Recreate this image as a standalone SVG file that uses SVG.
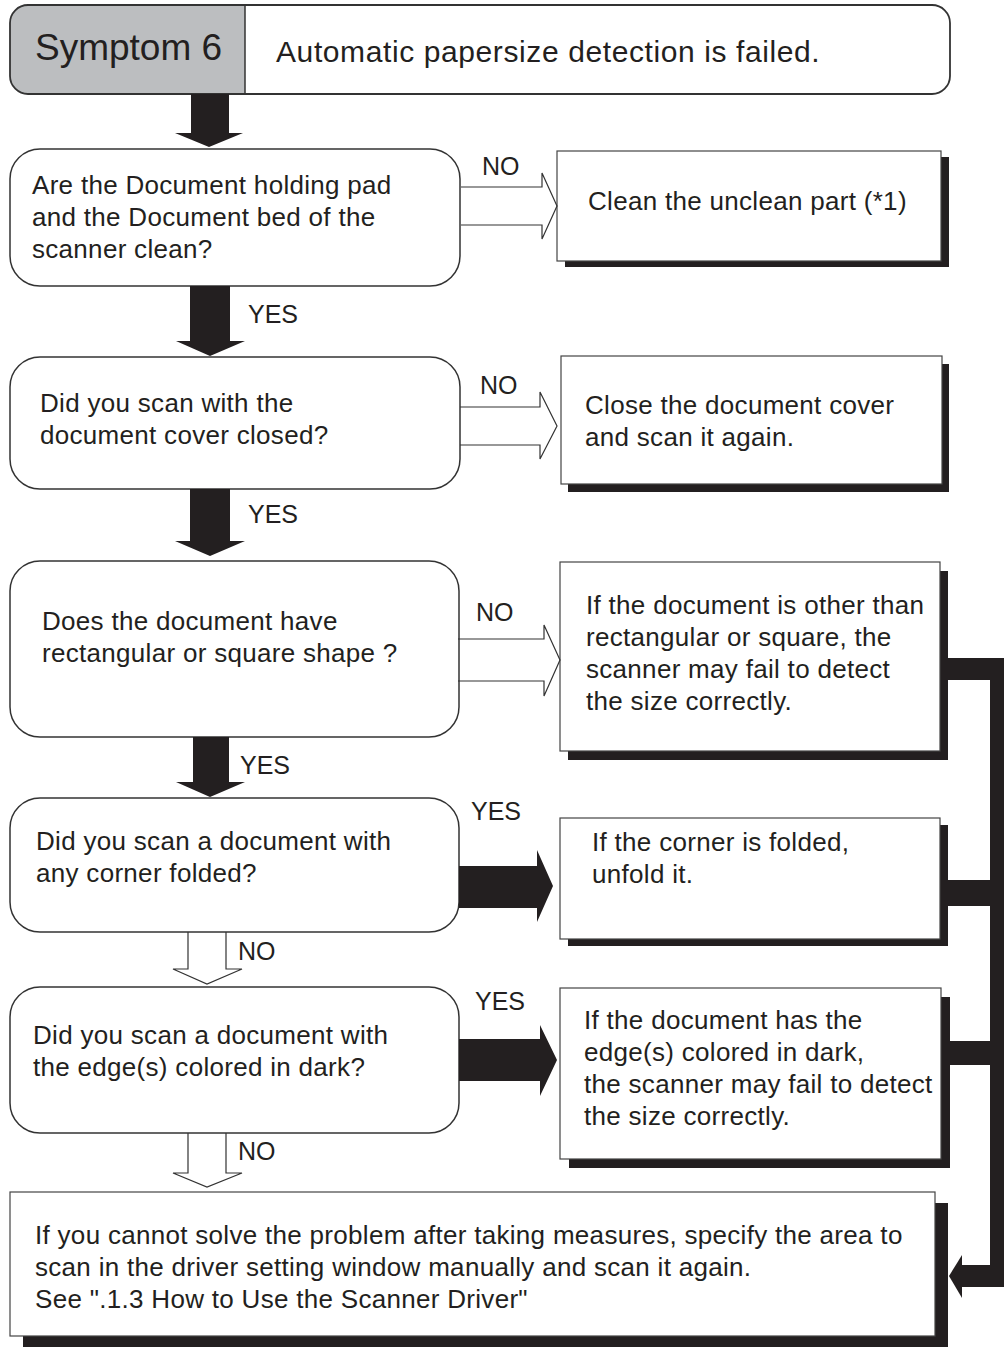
<svg xmlns="http://www.w3.org/2000/svg" width="1004" height="1347" viewBox="0 0 1004 1347">
<style>
.t{font-family:"Liberation Sans",Arial,sans-serif;font-size:26px;letter-spacing:0.3px;fill:#231f20}
.lb{font-family:"Liberation Sans",Arial,sans-serif;font-size:25px;fill:#231f20}
.q{fill:#fff;stroke:#333;stroke-width:1.5}
.box{fill:#fff;stroke:#444;stroke-width:1.2}
.sh{fill:#231f20}
.blk{fill:#231f20}
.open{fill:none;stroke:#333;stroke-width:1.2}
</style>
<rect width="1004" height="1347" fill="#fff"/>

<g id="header">
<path d="M245,5 H28 A18,18 0 0 0 10,23 V76 A18,18 0 0 0 28,94 H245 Z" fill="#bcbec0"/>
<rect x="10" y="5" width="940" height="89" rx="18" fill="none" stroke="#333" stroke-width="1.8"/>
<line x1="245" y1="5" x2="245" y2="94" stroke="#333" stroke-width="1.5"/>
<text x="35" y="60" style="font-family:'Liberation Sans',Arial,sans-serif;font-size:37px;fill:#231f20">Symptom 6</text>
<text x="276" y="62" style="font-family:'Liberation Sans',Arial,sans-serif;font-size:30px;letter-spacing:0.6px;fill:#231f20">Automatic papersize detection is failed.</text>
</g>

<g id="q1">
<rect class="q" x="10" y="149" width="450" height="137" rx="30"/>
<text class="t" x="32" y="194">Are the Document holding pad</text>
<text class="t" x="32" y="226">and the Document bed of the</text>
<text class="t" x="32" y="258">scanner clean?</text>
</g>
<g id="q2">
<rect class="q" x="10" y="357" width="450" height="132" rx="30"/>
<text class="t" x="40" y="412">Did you scan with the</text>
<text class="t" x="40" y="444">document cover closed?</text>
</g>
<g id="q3">
<rect class="q" x="10" y="561" width="449" height="176" rx="30"/>
<text class="t" x="42" y="630">Does the document have</text>
<text class="t" x="42" y="662">rectangular or square shape ?</text>
</g>
<g id="q4">
<rect class="q" x="10" y="798" width="449" height="134" rx="30"/>
<text class="t" x="36" y="850">Did you scan a document with</text>
<text class="t" x="36" y="882">any corner folded?</text>
</g>
<g id="q5">
<rect class="q" x="10" y="987" width="449" height="146" rx="30"/>
<text class="t" x="33" y="1044">Did you scan a document with</text>
<text class="t" x="33" y="1076">the edge(s) colored in dark?</text>
</g>

<g id="r1">
<rect class="sh" x="565" y="157" width="384" height="110"/>
<rect class="box" x="557" y="151" width="384" height="110"/>
<text class="t" x="588" y="210">Clean the unclean part (*1)</text>
</g>
<g id="r2">
<rect class="sh" x="568" y="364" width="381" height="128"/>
<rect class="box" x="561" y="356" width="381" height="128"/>
<text class="t" x="585" y="414">Close the document cover</text>
<text class="t" x="585" y="446">and scan it again.</text>
</g>
<g id="r3">
<rect class="sh" x="568" y="571" width="380" height="189"/>
<rect class="box" x="560" y="562" width="380" height="189"/>
<text class="t" x="586" y="614">If the document is other than</text>
<text class="t" x="586" y="646">rectangular or square, the</text>
<text class="t" x="586" y="678">scanner may fail to detect</text>
<text class="t" x="586" y="710">the size correctly.</text>
</g>
<g id="r4">
<rect class="sh" x="568" y="825" width="380" height="121"/>
<rect class="box" x="560" y="818" width="380" height="121"/>
<text class="t" x="592" y="851">If the corner is folded,</text>
<text class="t" x="592" y="883">unfold it.</text>
</g>
<g id="r5">
<rect class="sh" x="569" y="997" width="381" height="171"/>
<rect class="box" x="560" y="988" width="381" height="171"/>
<text class="t" x="584" y="1029">If the document has the</text>
<text class="t" x="584" y="1061">edge(s) colored in dark,</text>
<text class="t" x="584" y="1093">the scanner may fail to detect</text>
<text class="t" x="584" y="1125">the size correctly.</text>
</g>
<g id="final">
<rect class="sh" x="23" y="1203" width="925" height="144"/>
<rect class="box" x="10" y="1192" width="925" height="144"/>
<text class="t" x="35" y="1244">If you cannot solve the problem after taking measures, specify the area to</text>
<text class="t" x="35" y="1276">scan in the driver setting window manually and scan it again.</text>
<text class="t" x="35" y="1308">See ".1.3 How to Use the Scanner Driver"</text>
</g>

<g id="connectors">
<polygon class="blk" points="191,94 229,94 229,133 243,133 209,147 175,133 191,133"/>
<polygon class="blk" points="190,286 230,286 230,341 245,341 210,356 176,341 190,341"/>
<polygon class="blk" points="190,489 230,489 230,541 245,541 210,556 175,541 190,541"/>
<polygon class="blk" points="193,737 229,737 229,782 245,782 210,797 176,782 193,782"/>
<polyline class="open" points="188,932 188,969 173,969 207,984 242,969 226,969 226,932"/>
<polyline class="open" points="188,1133 188,1173 173,1173 207,1187 242,1173 226,1173 226,1133"/>
<polyline class="open" points="461,187 542,187 542,173 557,206 542,239 542,225 461,225"/>
<polyline class="open" points="460,407 540,407 540,392 557,426 540,459 540,445 460,445"/>
<polyline class="open" points="458,639 544,639 544,625 560,660 544,696 544,681 458,681"/>
<polygon class="blk" points="459,866 537,866 537,850 553,886 537,922 537,908 459,908"/>
<polygon class="blk" points="459,1039 540,1039 540,1025 557,1060 540,1096 540,1081 459,1081"/>
<rect class="blk" x="948" y="658" width="56" height="22"/>
<rect class="blk" x="990" y="658" width="14" height="629"/>
<rect class="blk" x="948" y="880" width="44" height="26"/>
<rect class="blk" x="950" y="1041" width="42" height="24"/>
<rect class="blk" x="959" y="1265" width="45" height="22"/>
<polygon class="blk" points="949,1276 962,1255 962,1298"/>
<text class="lb" x="482" y="175">NO</text>
<text class="lb" x="248" y="323">YES</text>
<text class="lb" x="480" y="394">NO</text>
<text class="lb" x="248" y="523">YES</text>
<text class="lb" x="476" y="621">NO</text>
<text class="lb" x="240" y="774">YES</text>
<text class="lb" x="471" y="820">YES</text>
<text class="lb" x="238" y="960">NO</text>
<text class="lb" x="475" y="1010">YES</text>
<text class="lb" x="238" y="1160">NO</text>
</g>
</svg>
